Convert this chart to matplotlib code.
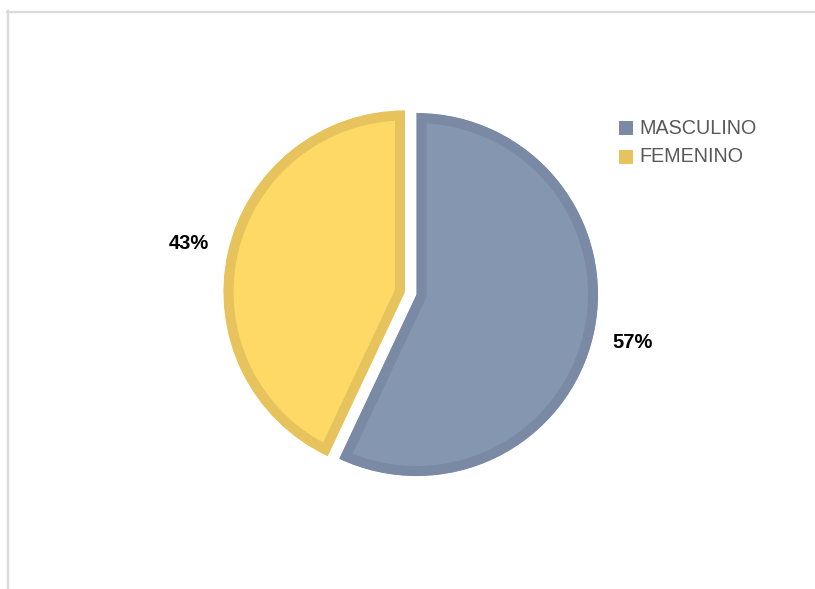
import matplotlib
matplotlib.use('Agg')
import matplotlib.pyplot as plt
from matplotlib.patches import Rectangle
from matplotlib.lines import Line2D

plt.rcParams['font.family'] = ['Liberation Sans', 'DejaVu Sans']

categorias = ['MASCULINO', 'FEMENINO']
porcentajes = [57, 43]
relleno = ['#8496B0', '#FFD966']
borde = ['#7A89A4', '#E6C35C']

W, H = 815, 589
fig = plt.figure(figsize=(W / 100, H / 100), dpi=100)
ax = fig.add_axes([0, 0, 1, 1])

# marco del área del gráfico (solo arriba e izquierda visibles)
fig.add_artist(Line2D([7 / W, 1], [1 - 11.8 / H] * 2, color='#D9D9D9', lw=1.6))
fig.add_artist(Line2D([8.2 / W] * 2, [0, 1 - 11 / H], color='#D9D9D9', lw=1.6))

# ejes en píxeles: explode va en las mismas unidades
radio = 181.5
wedges, textos, autotextos = ax.pie(
    porcentajes, colors=relleno, startangle=90, counterclock=False,
    radius=radio, center=(410.75, H - 293.25), explode=[5.9, 5.9],
    autopct=lambda p: f'{p:.0f}%', pctdistance=1.22, frame=True,
    wedgeprops=dict(linewidth=14.4, joinstyle='miter'),
    textprops=dict(fontsize=14.5, fontweight='bold', color='black'))
ax.set_xlim(0, W)
ax.set_ylim(0, H)
ax.axis('off')

# borde interior: el trazo se recorta con la propia cuña
for w, c in zip(wedges, borde):
    w.set_edgecolor(c)
    w.set_clip_on(True)
    w.set_clip_path(w)

# leyenda
for i, (cat, c) in enumerate(zip(categorias, borde)):
    yc = H - (128 + 29 * i)
    ax.add_patch(Rectangle((619, yc - 7), 14, 14, fc=c, ec='none'))
    ax.text(639, yc, cat, fontsize=14.2, color='#595959', va='center', ha='left')

fig.savefig('out.png', dpi=100)
